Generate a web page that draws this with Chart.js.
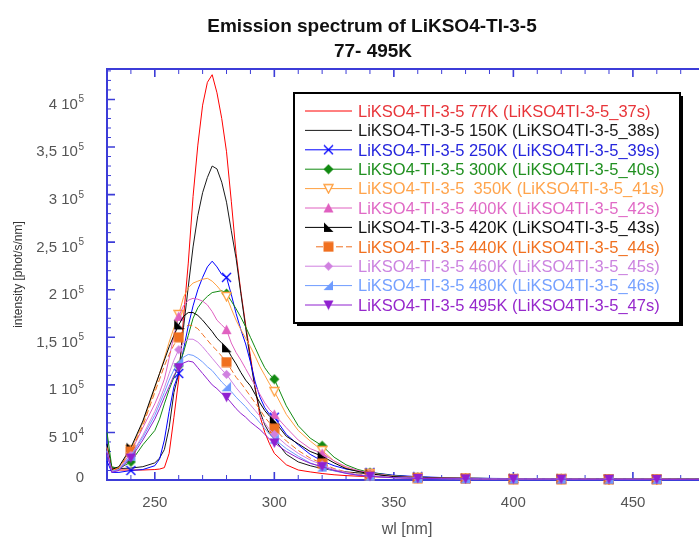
<!DOCTYPE html>
<html><head><meta charset="utf-8">
<script src="https://cdn.jsdelivr.net/npm/chart.js@4.4.1/dist/chart.umd.min.js"></script>
<style>html,body{margin:0;padding:0;background:#fff;overflow:hidden}#wrap{width:699px;height:538px;overflow:hidden;position:relative}canvas{display:block}</style>
</head><body><div id="wrap"><canvas id="c" width="744" height="538"></canvas></div>
<script>
// ---- data (intensity in units of 1000 phot/s/nm) ----
const WAVELENGTHS = [230,232,235,240,245,250,252,254,256,258,260,262,264,266,268,270,272,274,276,278,280,282,284,286,288,290,292,294,296,298,300,305,310,315,320,325,330,335,340,350,360,370,380,390,400,410,420,430,440,450,460,470,480];
const MARKER_WAVELENGTHS = [240,260,280,300,320,340,360,380,400,420,440,460,480];
const SERIES_LABELS = [
  'LiKSO4-TI-3-5 77K (LiKSO4TI-3-5_37s)',
  'LiKSO4-TI-3-5 150K (LiKSO4TI-3-5_38s)',
  'LiKSO4-TI-3-5 250K (LiKSO4TI-3-5_39s)',
  'LiKSO4-TI-3-5 300K (LiKSO4TI-3-5_40s)',
  'LiKSO4-TI-3-5  350K (LiKSO4TI-3-5_41s)',
  'LiKSO4-TI-3-5 400K (LiKSO4TI-3-5_42s)',
  'LiKSO4-TI-3-5 420K (LiKSO4TI-3-5_43s)',
  'LiKSO4-TI-3-5 440K (LiKSO4TI-3-5_44s)',
  'LiKSO4-TI-3-5 460K (LiKSO4TI-3-5_45s)',
  'LiKSO4-TI-3-5 480K (LiKSO4TI-3-5_46s)',
  'LiKSO4-TI-3-5 495K (LiKSO4TI-3-5_47s)'
];
const I_77K  = [28,12,10.5,10.5,10.5,11,11.5,13,28,66,106,170,228,298,352,394,418,426,407,380,345,293,238,198,163,130,97,67,50,38,28,16,10.5,8.5,6.8,5.5,4.6,4,3.5,2.6,2,1.6,1.4,1.2,1.1,1,1,0.9,0.9,0.8,0.8,0.8,0.7];
const I_150K = [32,13,12,12.5,14,18,23,32,55,92,112,160,203,245,278,302,318,330,327,313,292,262,233,196,160,126,95,72,58,49,43,27,19,15,12,10,8.5,7.5,6.5,4.5,3,2.3,1.9,1.6,1.4,1.3,1.2,1.1,1,1,0.9,0.9,0.8];
const I_250K = [20,8,8,10,11,15,22,42,72,98,112,137,162,183,200,213,224,230,224,216,213,195,175,158,143,124,103,87,76,69,66,48,37,27,20,15,11.5,9.5,8,5,3.5,2.6,2,1.7,1.5,1.3,1.2,1.1,1,1,0.9,0.9,0.9];
const I_300K = [50,14,12,19,37,52,64,80,95,108,120,134,152,170,181,188,193,197,198,199,196,188,180,171,161,150,139,128,118,111,106,78,57,44,36,24,16,11,8,4.5,3,2.3,1.9,1.6,1.4,1.3,1.2,1.1,1,1,0.9,0.9,0.9];
const I_350K = [35,10,13,32,60,96,112,128,145,160,174,192,202,207,209,211,212,209,204,198,193,180,168,158,149,140,130,119,110,101,93,69,52,41,31,20,13,9,7,4,2.8,2.2,1.8,1.5,1.3,1.2,1.1,1,1,0.9,0.9,0.8,0.8];
const I_400K = [30,9,11,29,55,80,92,106,128,152,172,183,189,191,190,188,184,177,168,163,158,144,134,126,117,108,99,90,81,74,69,55,42,33,28,20,14,10,7,4,2.8,2.2,1.8,1.5,1.3,1.2,1.1,1,1,0.9,0.9,0.8,0.8];
const I_420K = [38,11,14,34,62,98,112,126,140,152,163,172,176,176,173,168,162,156,149,144,139,130,122,113,105,99,90,81,73,67,62,46,38,30,25,18,12,9,6.5,3.5,2.5,2,1.6,1.4,1.2,1.1,1,1,0.9,0.9,0.8,0.8,0.8];
const I_440K = [34,10,13,30,57,92,106,120,132,142,150,158,163,162,159,153,147,141,136,130,124,116,108,102,95,88,81,74,66,60,54,41,31,23,17.5,12,8.5,6,4.5,2.5,1.8,1.5,1.3,1.1,1,1,0.9,0.9,0.8,0.8,0.8,0.7,0.7];
const I_460K = [31,9,11,26,47,72,84,97,112,126,137,144,148,148,145,140,134,128,122,116,111,104,97,91,85,79,73,67,60,53,48,37,28,21,16,11,8,5.5,4.5,2.6,1.9,1.5,1.3,1.1,1,1,0.9,0.9,0.8,0.8,0.8,0.7,0.7];
const I_480K = [30,9,11,25,45,68,80,92,105,116,124,129,132,131,128,124,119,115,109,103,98,93,87,82,77,71,66,60,54,48,43,33,25,18,13.5,9.5,7,5,4,2.4,1.8,1.4,1.2,1.1,1,0.9,0.9,0.8,0.8,0.8,0.7,0.7,0.7];
const I_495K = [29,8,10,23,42,64,75,87,98,110,118,123,125,124,118,112,106,100,96,91,87,81,75,70,66,61,57,53,48,43,39,30,23,17.5,14,10,7,5,4,2.3,1.7,1.4,1.2,1,1,0.9,0.9,0.8,0.8,0.8,0.7,0.7,0.7];
const SERIES = [I_77K,I_150K,I_250K,I_300K,I_350K,I_400K,I_420K,I_440K,I_460K,I_480K,I_495K];

const X_TICK_LABELS = [250,300,350,400,450];
const Y_TICK_VALUES = [0,50,100,150,200,250,300,350,400];
const Y_TICK_MANTISSA = ['0','5','1','1,5','2','2,5','3','3,5','4'];
const Y_TICK_EXPONENT = ['','4','5','5','5','5','5','5','5'];
const TITLE_LINES = ['Emission spectrum of LiKSO4-TI-3-5','77- 495K'];

// ---- styles ----
const FONT = '"Liberation Sans", Arial, sans-serif';
const AXIS_BLUE = '#3c3cd8';
const STYLE = [
  {color:'#ff0000', text:'#e8353a', marker:null},
  {color:'#1a1a1a', text:'#1a1a1a', marker:null},
  {color:'#0000ff', text:'#2626dc', marker:'cross'},
  {color:'#118a11', text:'#219021', marker:'diamond'},
  {color:'#ffa040', text:'#ffa44c', marker:'triDownOpen'},
  {color:'#e060c0', text:'#e06ac6', marker:'triUp'},
  {color:'#000000', text:'#111111', marker:'cornerL'},
  {color:'#f07020', text:'#f07020', marker:'square', dash:[6,3]},
  {color:'#d080e0', text:'#cc84e0', marker:'diamondSmall'},
  {color:'#6e9bff', text:'#76a0ff', marker:'cornerR'},
  {color:'#9020d0', text:'#9628cc', marker:'triDown'}
];

function markerCanvas(kind, color){
  if(!kind) return null;
  const s = 11, m = s/2;
  const c = document.createElement('canvas'); c.width = s; c.height = s;
  const g = c.getContext('2d');
  g.fillStyle = color; g.strokeStyle = color; g.lineWidth = 1.3;
  g.beginPath();
  switch(kind){
    case 'cross': g.moveTo(1,1); g.lineTo(s-1,s-1); g.moveTo(s-1,1); g.lineTo(1,s-1); g.stroke(); break;
    case 'diamond': g.moveTo(m,0.5); g.lineTo(s-0.5,m); g.lineTo(m,s-0.5); g.lineTo(0.5,m); g.closePath(); g.fill(); break;
    case 'diamondSmall': g.moveTo(m,1); g.lineTo(s-1,m); g.lineTo(m,s-1); g.lineTo(1,m); g.closePath(); g.fill(); break;
    case 'triDownOpen': g.moveTo(1,1.5); g.lineTo(s-1,1.5); g.lineTo(m,s-1); g.closePath(); g.fillStyle='#fff'; g.fill(); g.stroke(); break;
    case 'triUp': g.moveTo(m,0.5); g.lineTo(s-0.5,s-1); g.lineTo(0.5,s-1); g.closePath(); g.fill(); break;
    case 'triDown': g.moveTo(0.5,1); g.lineTo(s-0.5,1); g.lineTo(m,s-0.5); g.closePath(); g.fill(); break;
    case 'square': g.rect(0.5,0.5,s-1,s-1); g.fill(); break;
    case 'cornerL': g.moveTo(1,0.5); g.lineTo(1,s-1); g.lineTo(s-0.5,s-1); g.closePath(); g.fill(); break;
    case 'cornerR': g.moveTo(s-1,0.5); g.lineTo(s-1,s-1); g.lineTo(0.5,s-1); g.closePath(); g.fill(); break;
  }
  return c;
}
const MARKERS = STYLE.map(st => markerCanvas(st.marker, st.color));

const frameLegendPlugin = {
  id: 'frameLegend',
  beforeDatasetsDraw(chart){
    const {ctx, chartArea:a, scales} = chart;
    const xs = scales.x, ys = scales.y;
    ctx.save();
    ctx.strokeStyle = AXIS_BLUE;
    for(let v = 230; v <= 480; v += 10){
      const px = xs.getPixelForValue(v);
      const major = v % 50 === 0;
      const len = major ? 8 : 5;
      ctx.lineWidth = major ? 1.6 : 1;
      ctx.beginPath();
      ctx.moveTo(px, a.bottom); ctx.lineTo(px, a.bottom - len);
      ctx.moveTo(px, a.top); ctx.lineTo(px, a.top + len);
      ctx.stroke();
    }
    for(let v = 0; v <= 430; v += 10){
      const py = ys.getPixelForValue(v);
      const major = v % 50 === 0;
      const len = major ? 8 : 4;
      ctx.lineWidth = major ? 1.6 : 1;
      ctx.beginPath();
      ctx.moveTo(a.left, py); ctx.lineTo(a.left + len, py);
      ctx.moveTo(a.right, py); ctx.lineTo(a.right - len, py);
      ctx.stroke();
    }
    ctx.lineWidth = 2;
    ctx.strokeRect(a.left, a.top, a.right - a.left, a.bottom - a.top);
    ctx.restore();
  },
  afterDatasetsDraw(chart){
    const ctx = chart.ctx;
    const bx = 294, by = 93, bw = 386, bh = 230;
    ctx.save();
    ctx.fillStyle = '#000'; ctx.fillRect(bx+3, by+3, bw, bh);
    ctx.fillStyle = '#fff'; ctx.fillRect(bx, by, bw, bh);
    ctx.strokeStyle = '#000'; ctx.lineWidth = 2; ctx.strokeRect(bx, by, bw, bh);
    ctx.font = '16.5px ' + FONT;
    ctx.textBaseline = 'alphabetic'; ctx.textAlign = 'left';
    chart.data.datasets.forEach((ds, i) => {
      const y = 111 + i * 19.4;
      const st = STYLE[i];
      ctx.strokeStyle = st.color; ctx.lineWidth = 1;
      ctx.setLineDash(st.dash ? [7,3] : []);
      ctx.beginPath();
      ctx.moveTo(st.dash ? 316 : 305, y); ctx.lineTo(352, y); ctx.stroke();
      ctx.setLineDash([]);
      const mk = MARKERS[i];
      if(mk) ctx.drawImage(mk, 328.5 - mk.width/2, y - mk.height/2);
      ctx.fillStyle = st.text;
      ctx.fillText(ds.label, 358, y + 5.8);
    });
    ctx.restore();
  },
  afterDraw(chart){
    const ctx = chart.ctx;
    const ys = chart.scales.y;
    ctx.save();
    // title
    ctx.fillStyle = '#111';
    ctx.font = 'bold 19px ' + FONT;
    ctx.textAlign = 'center'; ctx.textBaseline = 'alphabetic';
    ctx.fillText(TITLE_LINES[0], 372, 32);
    ctx.fillText(TITLE_LINES[1], 373, 56.5);
    // y tick labels with superscript exponent
    ctx.textAlign = 'left';
    ctx.fillStyle = '#555';
    Y_TICK_VALUES.forEach((v, i) => {
      const py = ys.getPixelForValue(v);
      const exp = Y_TICK_EXPONENT[i];
      const main = Y_TICK_MANTISSA[i] + (exp ? ' 10' : '');
      ctx.font = '15px ' + FONT;
      const mw = ctx.measureText(main).width;
      ctx.font = '10px ' + FONT;
      const ew = exp ? ctx.measureText(exp).width + 0.5 : 0;
      const right = 84;
      const base = exp ? py + 9.4 : py + 2.4;
      ctx.font = '15px ' + FONT;
      ctx.fillText(main, right - ew - mw, base);
      if(exp){ ctx.font = '10px ' + FONT; ctx.fillText(exp, right - ew + 0.5, base - 6.4); }
    });
    ctx.restore();
  }
};

Chart.defaults.font.family = FONT;

new Chart(document.getElementById('c'), {
  type: 'line',
  data: {
    datasets: SERIES.map((vals, i) => ({
      label: SERIES_LABELS[i],
      data: WAVELENGTHS.map((w, j) => ({x: w, y: vals[j]})),
      borderColor: STYLE[i].color,
      backgroundColor: STYLE[i].color,
      borderWidth: 1,
      borderDash: STYLE[i].dash || [],
      pointStyle: MARKERS[i] || 'circle',
      pointRadius: ctx => (MARKERS[i] && ctx.raw && MARKER_WAVELENGTHS.includes(ctx.raw.x)) ? 5 : 0,
      pointHoverRadius: 0,
      fill: false, tension: 0, clip: false,
      order: SERIES.length - i
    }))
  },
  options: {
    responsive: false, animation: false, devicePixelRatio: 1,
    layout: {padding: {top: 69, right: 37, left: 0, bottom: 0}},
    plugins: {legend: {display: false}, tooltip: {enabled: false}, title: {display: false}},
    scales: {
      x: {
        type: 'linear', min: 230, max: 481,
        afterBuildTicks: s => { s.ticks = X_TICK_LABELS.map(v => ({value: v})); },
        afterFit: s => { s.height = 58; },
        grid: {display: false, drawTicks: false}, border: {display: false},
        ticks: {color: '#555', font: {size: 15}, padding: 14, maxRotation: 0, autoSkip: false},
        title: {display: true, text: 'wl [nm]', color: '#555', font: {size: 16, lineHeight: 1}, padding: 0}
      },
      y: {
        type: 'linear', min: 0, max: 432,
        afterFit: s => { s.width = 107; },
        grid: {display: false, drawTicks: false}, border: {display: false},
        ticks: {display: false},
        title: {display: true, text: 'intensity [phot/s/nm]', color: '#333', font: {size: 12, lineHeight: 1.2}, padding: {top: 11, bottom: 0}}
      }
    }
  },
  plugins: [frameLegendPlugin]
});
</script></body></html>
